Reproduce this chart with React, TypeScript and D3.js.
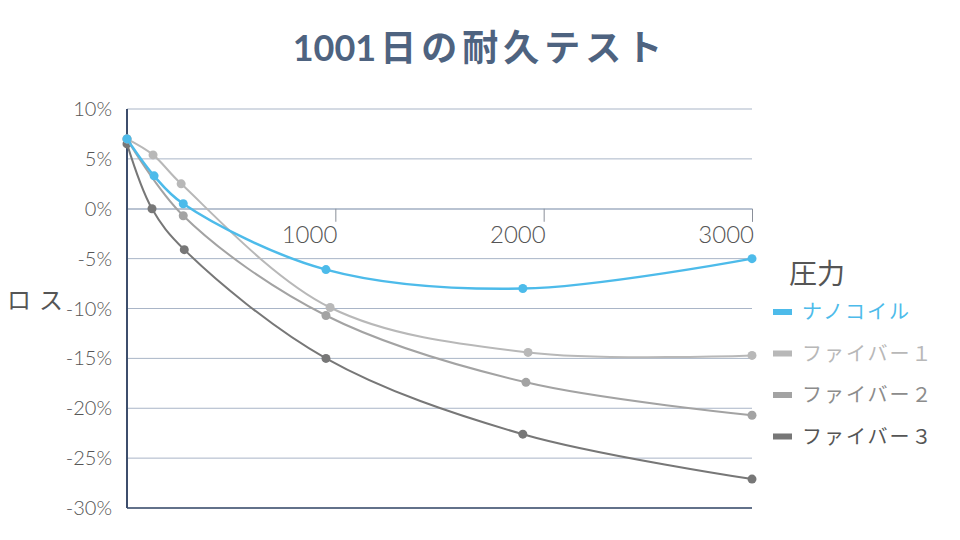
import React, { useEffect, useRef } from 'react';
import * as d3 from 'd3';

// Days tested vs. loss (%) for each coil type
const seriesNames = ['ナノコイル', 'ファイバー1', 'ファイバー2', 'ファイバー3'];
const legendLabels = ['ナノコイル', 'ファイバー１', 'ファイバー２', 'ファイバー３'];
const seriesColors = ['#4dbbea', '#b8b8b8', '#a3a3a3', '#777777'];

const nanocoil: [number, number][] = [
  [0, 7], [130, 3.3], [270, 0.5], [955, -6.1], [1900, -8], [3000, -5],
];
const fiber1: [number, number][] = [
  [0, 7], [125, 5.4], [260, 2.5], [975, -9.9], [1925, -14.4], [3000, -14.7],
];
const fiber2: [number, number][] = [
  [0, 7], [270, -0.7], [955, -10.7], [1915, -17.4], [3000, -20.7],
];
const fiber3: [number, number][] = [
  [0, 6.5], [120, 0], [275, -4.1], [955, -15], [1900, -22.6], [3000, -27.1],
];

const xTicks = [1000, 2000, 3000];
const yTicks = [10, 5, 0, -5, -10, -15, -20, -25, -30];

const font = "'Lato', 'Noto Sans CJK JP', sans-serif";

const App: React.FC = () => {
  const ref = useRef<SVGSVGElement>(null);

  useEffect(() => {
    if (!ref.current) return;
    const svg = d3.select(ref.current);
    svg.selectAll('*').remove();

    const left = 127;
    const right = 752;
    const top = 109;
    const bottom = 508;

    const x = d3.scaleLinear().domain([0, 3000]).range([left, right]);
    const y = d3.scaleLinear().domain([-30, 10]).range([bottom, top]);

    // Title: digits tight, kana/kanji spaced out
    const title = svg
      .append('text')
      .attr('x', 480)
      .attr('y', 61)
      .attr('text-anchor', 'middle')
      .style('font-family', font)
      .style('font-size', '36px')
      .style('font-weight', 'bold')
      .style('fill', '#4e6380');
    title.append('tspan').text('1001');
    title.append('tspan').attr('dx', 4).style('letter-spacing', '5px').text('日の耐久テスト');

    // Horizontal gridlines
    svg
      .append('g')
      .selectAll('line')
      .data(yTicks)
      .enter()
      .append('line')
      .attr('x1', left)
      .attr('x2', right)
      .attr('y1', (d) => y(d))
      .attr('y2', (d) => y(d))
      .attr('stroke', '#a9b5c7')
      .attr('stroke-width', 1);

    // Y labels
    svg
      .append('g')
      .selectAll('text')
      .data(yTicks)
      .enter()
      .append('text')
      .attr('x', 112)
      .attr('y', (d) => y(d) + 7)
      .attr('text-anchor', 'end')
      .style('font-family', font)
      .style('font-size', '20px')
      .style('font-weight', 300)
      .style('fill', '#555')
      .text((d) => `${d}%`);

    // Y axis title
    svg
      .append('text')
      .attr('x', 7)
      .attr('y', 309)
      .style('font-family', font)
      .style('font-size', '24px')
      .style('letter-spacing', '8px')
      .style('fill', '#555')
      .text('ロス');

    // X axis at zero with ticks
    const xAxis = svg
      .append('g')
      .attr('transform', `translate(0,${y(0)})`)
      .call(d3.axisTop(x).tickValues(xTicks).tickSize(-13).tickFormat(() => ''));
    xAxis.select('.domain').attr('stroke', '#a9b5c7');
    xAxis.selectAll('.tick line').attr('stroke', '#8a8f99');

    svg
      .append('g')
      .selectAll('text')
      .data(xTicks)
      .enter()
      .append('text')
      .attr('x', (d) => x(d) + 2)
      .attr('y', y(0) + 34)
      .attr('text-anchor', 'end')
      .style('font-family', font)
      .style('font-size', '24px')
      .style('font-weight', 300)
      .style('fill', '#555')
      .text((d) => String(d));

    // Left and bottom frame
    svg
      .append('line')
      .attr('x1', left)
      .attr('x2', left)
      .attr('y1', top)
      .attr('y2', bottom)
      .attr('stroke', '#3d4e6c')
      .attr('stroke-width', 2);
    svg
      .append('line')
      .attr('x1', left)
      .attr('x2', right)
      .attr('y1', bottom)
      .attr('y2', bottom)
      .attr('stroke', '#3d4e6c')
      .attr('stroke-width', 1.5);

    const allSeries = [nanocoil, fiber1, fiber2, fiber3];
    const line = d3
      .line<[number, number]>()
      .x((d) => x(d[0]))
      .y((d) => y(d[1]))
      .curve(d3.curveCatmullRom.alpha(0.5));

    // draw darker series first so the blue line sits on top
    const order = [3, 2, 1, 0];
    order.forEach((i) => {
      const data = allSeries[i];
      const g = svg.append('g');
      g.append('path')
        .attr('d', line(data))
        .attr('fill', 'none')
        .attr('stroke', seriesColors[i])
        .attr('stroke-width', i === 0 ? 2.5 : 2);
      g.selectAll('circle')
        .data(data)
        .enter()
        .append('circle')
        .attr('cx', (d) => x(d[0]))
        .attr('cy', (d) => y(d[1]))
        .attr('r', 4.5)
        .attr('fill', seriesColors[i]);
    });

    // Legend
    svg
      .append('text')
      .attr('x', 789)
      .attr('y', 284)
      .style('font-family', font)
      .style('font-size', '28px')
      .style('fill', '#555')
      .text('圧力');

    const legend = svg
      .append('g')
      .selectAll('g')
      .data(seriesNames)
      .enter()
      .append('g')
      .attr('transform', (_, i) => `translate(773,${312 + i * 41.5})`);
    legend
      .append('rect')
      .attr('x', 0)
      .attr('y', -3)
      .attr('width', 19)
      .attr('height', 6)
      .attr('fill', (_, i) => seriesColors[i]);
    legend
      .append('text')
      .attr('x', 29)
      .attr('y', 7)
      .style('font-family', font)
      .style('font-size', '20px')
      .style('letter-spacing', '2px')
      .style('fill', (_, i) => (i === 3 ? '#555' : i === 2 ? '#8c8c8c' : seriesColors[i]))
      .text((_, i) => legendLabels[i]);
  }, []);

  return (
    <svg
      ref={ref}
      width={960}
      height={540}
      style={{ display: 'block', position: 'absolute', left: 0, top: 0 }}
    />
  );
};

export default App;
